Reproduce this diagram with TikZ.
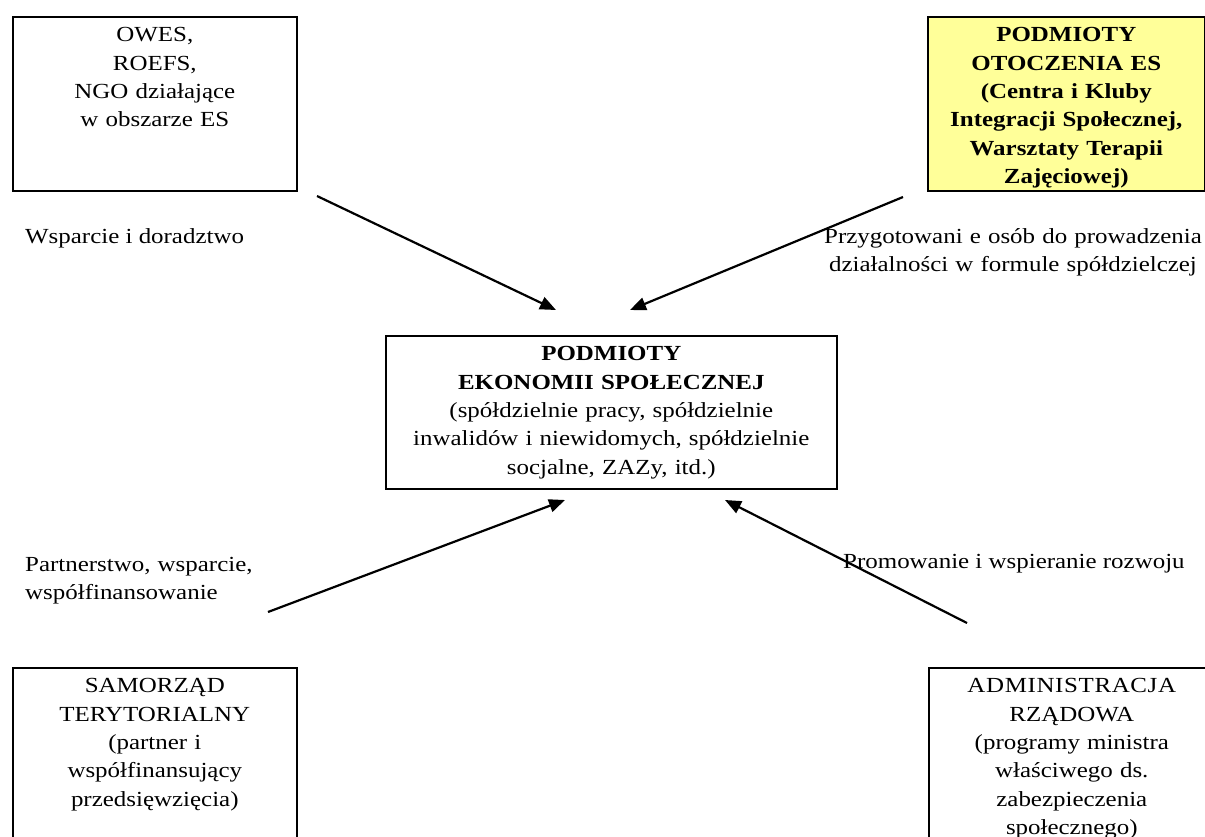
\documentclass[tikz,border=0pt]{standalone}
\usepackage{fontspec}
\setmainfont[FakeStretch=1.16]{Liberation Serif}
\usetikzlibrary{arrows.meta}

\definecolor{paleyellow}{HTML}{FFFF99}
\newcommand{\boxfont}{\fontsize{21.5}{28.3}\selectfont}

\begin{document}
\begin{tikzpicture}[
    x=1pt, y=-1pt,
    box/.style={draw, line width=1.6pt, anchor=north west, align=center,
                font=\boxfont, inner xsep=4pt, inner ysep=0pt, text height=25pt},
    link/.style={line width=2.2pt, -{Triangle[length=16pt,width=13pt]}},
    lbl/.style={font=\boxfont, inner sep=0pt}
]

\useasboundingbox (0,0) rectangle (1205,836);
\clip (0,0) rectangle (1205,836);

% ---------- boxes ----------
\node[box, text width=276pt, text depth=149pt] (owes) at (12,16)
  {OWES,\\ROEFS,\\NGO działające\\w obszarze ES};
\node[box, fill=paleyellow, font=\boxfont\bfseries, text width=269pt, text depth=149pt] (otoczenie) at (927,16)
  {PODMIOTY\\OTOCZENIA ES\\(Centra i Kluby\\Integracji Społecznej,\\Warsztaty Terapii\\Zajęciowej)};
\node[box, text width=443pt, text depth=128pt] (pes) at (385,335)
  {\textbf{PODMIOTY}\\\textbf{EKONOMII SPOŁECZNEJ}\\(spółdzielnie pracy, spółdzielnie\\inwalidów i niewidomych, spółdzielnie\\socjalne, ZAZy, itd.)};
% the two lower boxes run past the bottom edge
\node[box, text width=276pt, text depth=200pt] (samorzad) at (12,667)
  {SAMORZĄD\\TERYTORIALNY\\(partner i\\współfinansujący\\przedsięwzięcia)};
\node[box, text width=278pt, text depth=200pt] (admin) at (928,667)
  {{\addfontfeatures{LetterSpace=3}ADMINISTRACJA}\\RZĄDOWA\\(programy ministra\\właściwego ds.\\zabezpieczenia\\społecznego)};

% ---------- arrow ends ----------
\coordinate (owes-out)  at (317,196);
\coordinate (pes-nw)    at (556,310);
\coordinate (otocz-out) at (903,197);
\coordinate (pes-ne)    at (630,310);
\coordinate (samo-out)  at (268,612);
\coordinate (pes-sw)    at (565,500);
\coordinate (admin-out) at (967,623);
\coordinate (pes-se)    at (725,500);

% ---------- arrows ----------
\foreach \f/\t in {owes-out/pes-nw, otocz-out/pes-ne, samo-out/pes-sw, admin-out/pes-se}
  \draw[link] (\f) -- (\t);

% ---------- arrow labels ----------
\node[lbl, anchor=base west] (wsparcie) at (25,243) {Wsparcie i doradztwo};
\node[lbl, anchor=base, align=center, text width=430pt] (przygot) at (1013,243)
  {Przygotowani e osób do prowadzenia\\działalności w formule spółdzielczej};
\node[lbl, anchor=base west, align=left, text width=260pt] (partner) at (25,571)
  {Partnerstwo, wsparcie,\\współfinansowanie};
\node[lbl, anchor=base west] (promow) at (843,568) {Promowanie i wspieranie rozwoju};

\end{tikzpicture}
\end{document}
